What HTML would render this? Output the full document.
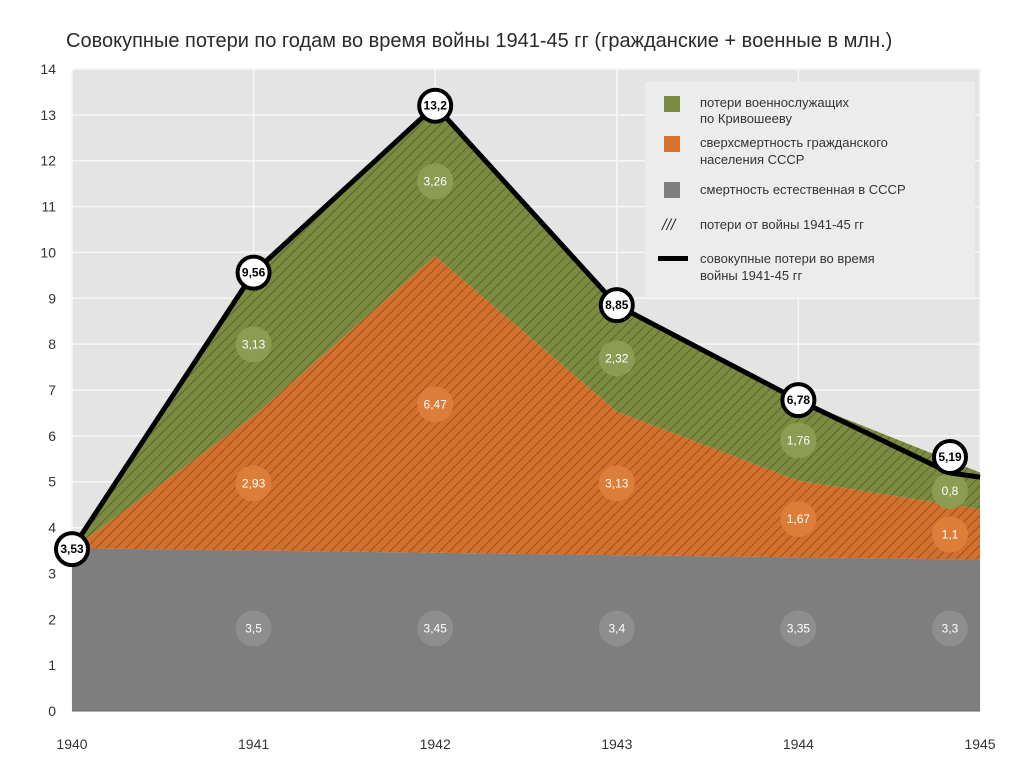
<!DOCTYPE html>
<html><head><meta charset="utf-8"><style>
body{margin:0;background:#fff;width:1024px;height:767px;overflow:hidden;font-family:"Liberation Sans",sans-serif}
svg text{font-family:"Liberation Sans","DejaVu Sans",sans-serif}
</style></head><body>
<svg id="c" width="1024" height="767" xmlns="http://www.w3.org/2000/svg">
<defs>
<pattern id="hatch" width="7" height="7" patternUnits="userSpaceOnUse" patternTransform="rotate(45)">
<line x1="0" y1="0" x2="0" y2="7" stroke="rgba(0,0,0,0.28)" stroke-width="2"/>
</pattern>
</defs>
<rect x="0" y="0" width="1024" height="767" fill="#fff"/>
<text x="66" y="47" font-size="20" fill="#2a2a2a">Совокупные потери по годам во время войны 1941-45 гг (гражданские + военные в млн.)</text>
<rect x="72" y="69" width="908" height="642" fill="#e4e4e4"/>
<g id="grid"></g>
<g id="areas"></g>
<g id="bubbles"></g>
<g id="line"></g>
<g id="axes"></g>
<g>
<rect x="645" y="82" width="330" height="215" fill="#ececec"/>
<rect x="664" y="96" width="16" height="16" fill="#7d8c44"/>
<text x="700" y="107" font-size="13" fill="#333">потери военнослужащих</text>
<text x="700" y="123" font-size="13" fill="#333">по Кривошееву</text>
<rect x="664" y="136" width="16" height="16" fill="#d8722f"/>
<text x="700" y="147" font-size="13" fill="#333">сверхсмертность гражданского</text>
<text x="700" y="164" font-size="13" fill="#333">населения СССР</text>
<rect x="664" y="182" width="16" height="16" fill="#7e7e7e"/>
<text x="700" y="194" font-size="13" fill="#333">смертность естественная в СССР</text>
<text x="662" y="230" font-size="16" fill="#333" font-style="italic">///</text>
<text x="700" y="229" font-size="13" fill="#333">потери от войны 1941-45 гг</text>
<rect x="658" y="256" width="30" height="5" fill="#000"/>
<text x="700" y="263" font-size="13" fill="#333">совокупные потери во время</text>
<text x="700" y="280" font-size="13" fill="#333">войны 1941-45 гг</text>
</g>
</svg>
<script>
const years=[1940,1941,1942,1943,1944,1945];
const natural=[3.55,3.5,3.45,3.4,3.35,3.3];
const civilian=[0,2.93,6.47,3.13,1.67,1.1];
const military=[0,3.13,3.26,2.32,1.76,0.8];
const totals=[3.53,9.56,13.2,8.85,6.78,5.19];
const naturalLabels=["","3,5","3,45","3,4","3,35","3,3"];
const civilianLabels=["","2,93","6,47","3,13","1,67","1,1"];
const militaryLabels=["","3,13","3,26","2,32","1,76","0,8"];
const totalLabels=["3,53","9,56","13,2","8,85","6,78","5,19"];
const yTicks=[0,1,2,3,4,5,6,7,8,9,10,11,12,13,14];
const xTicks=[1940,1941,1942,1943,1944,1945];
const NS="http://www.w3.org/2000/svg";
const X=v=>72+(v-1940)*181.6;
const Y=v=>711-v*45.857;
const px=i=>i===years.length-1?X(years[i])-30:X(years[i]);
function mk(t,a,p){const e=document.createElementNS(NS,t);for(const k in a)e.setAttribute(k,a[k]);p.appendChild(e);return e;}
const grid=document.getElementById('grid'),axes=document.getElementById('axes');
yTicks.forEach(t=>{
 const l=mk('line',{x1:72,x2:980,y1:Y(t),y2:Y(t),stroke:'#f7f7f7','stroke-width':1.5},grid);
 
 
 const tx=mk('text',{x:56,y:Y(t)+5,'font-size':14,'text-anchor':'end',fill:'#333'},axes);tx.textContent=t;
 
 
});
xTicks.forEach(t=>{
 const l=mk('line',{x1:X(t),x2:X(t),y1:69,y2:711,stroke:'#f7f7f7','stroke-width':1.5},grid);
 
 
 const tx=mk('text',{x:X(t),y:749,'font-size':14,'text-anchor':'middle',fill:'#333'},axes);tx.textContent=t;
 
 
});
const al=mk('line',{x1:72,x2:980,y1:711,y2:711,stroke:'#666'},axes);


const areas=document.getElementById('areas');
const xs=years.map((y,i)=>X(y));
const lvl0=years.map(()=>0);
const lvl1=natural.slice();
const lvl2=natural.map((v,i)=>i===0?totals[0]:v+civilian[i]);
const lvl3=lvl2.map((v,i)=>i===0?totals[0]:v+military[i]);
function band(lo,hi,fill,name,hatch){
 let d='M'+xs.map((x,i)=>x+','+Y(hi[i])).join('L');
 d+='L'+xs.map((x,i)=>x+','+Y(lo[i])).reverse().join('L')+'Z';
 const p=mk('path',{d:d,fill:fill},areas);
 
 
 if(hatch){const h=mk('path',{d:d,fill:'url(#hatch)'},areas);
 
 }
}
band(lvl0,lvl1,'#7e7e7e','area-natural',false);
band(lvl1,lvl2,'#d4702d','area-civilian',true);
band(lvl2,lvl3,'#7b8c40','area-military',true);
const bub=document.getElementById('bubbles');
function bubble(cx,cy,txt,fill,name){
 const c=mk('circle',{cx:cx,cy:cy,r:18,fill:fill},bub);
 
 
 const t=mk('text',{x:cx,y:cy+4,'font-size':12,'text-anchor':'middle',fill:'#fff'},bub);t.textContent=txt;
 
 
}
for(let i=1;i<years.length;i++){
 const x=px(i);
 bubble(x,Y(1.8),naturalLabels[i],'#8e8e8e','bubble-natural');
 bubble(x,Y(natural[i]+civilian[i]/2),civilianLabels[i],'#dd7d3a','bubble-civilian');
 bubble(x,Y(natural[i]+civilian[i]+military[i]/2),militaryLabels[i],'#8c9c52','bubble-military');
}
const lg=document.getElementById('line');
const pts=totals.map((v,i)=>px(i)+','+Y(v));
pts.push('980,'+Y(5.1));
const pl=mk('polyline',{points:pts.join(' '),fill:'none',stroke:'#000','stroke-width':5,'stroke-linejoin':'miter'},lg);


totals.forEach((v,i)=>{
 const off=i===totals.length-1?-16:0;
 const c=mk('circle',{cx:px(i),cy:Y(v)+off,r:16,fill:'#fff',stroke:'#000','stroke-width':4},lg);
 
 
 const t=mk('text',{x:px(i),y:Y(v)+off+4,'font-size':12,'font-weight':'bold','text-anchor':'middle',fill:'#000'},lg);t.textContent=totalLabels[i];
 
 
});
</script>
</body></html>
